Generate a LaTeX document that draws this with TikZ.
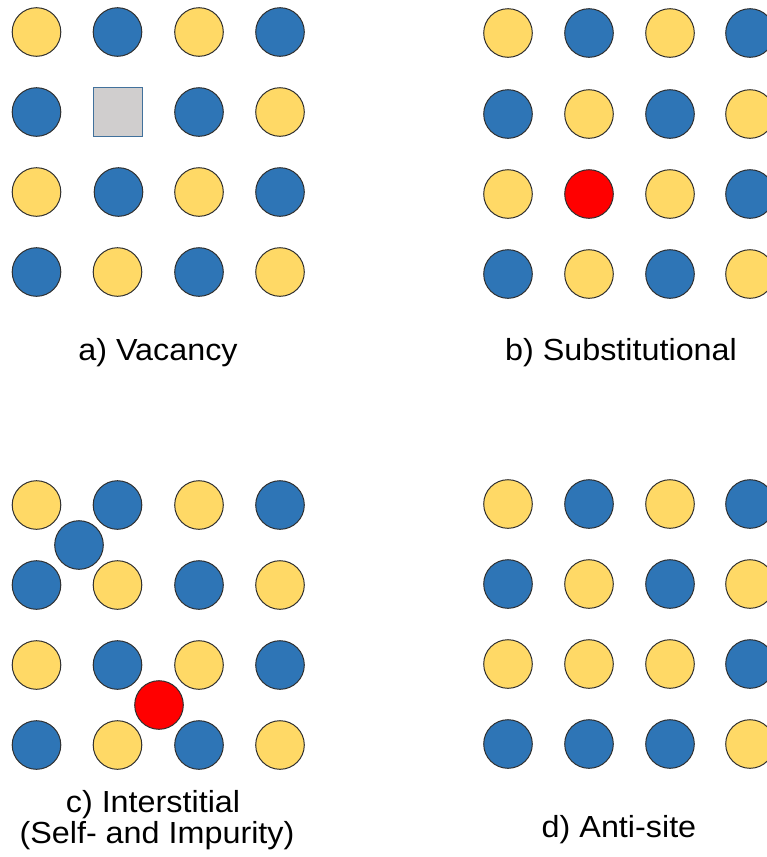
\documentclass[tikz,border=0pt]{standalone}
\usepackage{fontspec}
\setmainfont{Liberation Sans}
\newfontfamily\lblfont[FakeStretch=1.06]{Liberation Sans}
\definecolor{atomY}{HTML}{FFD966}
\definecolor{atomB}{HTML}{2E75B6}
\definecolor{atomR}{HTML}{FF0000}
\definecolor{vacFill}{HTML}{D0CECE}
\definecolor{vacLine}{HTML}{41719C}
\definecolor{rimC}{HTML}{303030}
\tikzset{
  atom/.style={circle,draw=rimC,line width=1pt,minimum size=48.6pt,inner sep=0pt},
  Y/.style={atom,fill=atomY},
  B/.style={atom,fill=atomB},
  R/.style={atom,fill=atomR},
  V/.style={rectangle,draw=vacLine,fill=vacFill,line width=1pt,minimum size=49pt,inner sep=0pt},
  lbl/.style={anchor=base,inner sep=0pt,font=\lblfont\fontsize{30.5}{32}\selectfont}
}
\begin{document}
\begin{tikzpicture}[x=1pt,y=-1pt]
\useasboundingbox (0,0) rectangle (767,857);
% panel a
\foreach \c/\r/\s/\n in {
 36.5/32/Y/a11,117.5/32/B/a12,199/32/Y/a13,280/32/B/a14,
 36.5/112/B/a21,117.5/112/V/a22,199/112/B/a23,280/112/Y/a24,
 36.5/192/Y/a31,118.5/192/B/a32,199/192/Y/a33,280/192/B/a34,
 36.5/272/B/a41,117.5/272/Y/a42,199/272/B/a43,280/272/Y/a44}
 \node[\s] (\n) at (\c,\r) {};
% panel b
\foreach \c/\r/\s/\n in {
 508/33/Y/b11,589/33/B/b12,670/33/Y/b13,750/33/B/b14,
 508/114/B/b21,589/114/Y/b22,670/114/B/b23,750/114/Y/b24,
 508/194/Y/b31,589/194/R/b32,670/194/Y/b33,750/194/B/b34,
 508/274/B/b41,589/274/Y/b42,670/274/B/b43,750/274/Y/b44}
 \node[\s] (\n) at (\c,\r) {};
% panel c
\foreach \c/\r/\s/\n in {
 36.5/505/Y/c11,117.5/505/B/c12,199/505/Y/c13,280/505/B/c14,
 36.5/585/B/c21,117.5/585/Y/c22,199/585/B/c23,280/585/Y/c24,
 36.5/665/Y/c31,117.5/665/B/c32,199/665/Y/c33,280/665/B/c34,
 36.5/745/B/c41,117.5/745/Y/c42,199/745/B/c43,280/745/Y/c44}
 \node[\s] (\n) at (\c,\r) {};
\node[B] (ciB) at (79,545) {};
\node[R] (ciR) at (159,705) {};
% panel d
\foreach \c/\r/\s/\n in {
 508/504/Y/d11,589/504/B/d12,670/504/Y/d13,750/504/B/d14,
 508/584/B/d21,589/584/Y/d22,670/584/B/d23,750/584/Y/d24,
 508/664/Y/d31,589/664/Y/d32,670/664/Y/d33,750/664/B/d34,
 508/744/B/d41,589/744/B/d42,670/744/B/d43,750/744/Y/d44}
 \node[\s] (\n) at (\c,\r) {};
% labels
\node[lbl] (la) at (158,360) {a) Vacancy};
\node[lbl] (lb) at (621,360) {b) Substitutional};
\node[lbl] (lc1) at (153,812) {c) Interstitial};
\node[lbl] (lc2) at (157,843) {(Self- and Impurity)};
\node[lbl] (ld) at (619,837) {d) Anti-site};
\end{tikzpicture}
\end{document}
